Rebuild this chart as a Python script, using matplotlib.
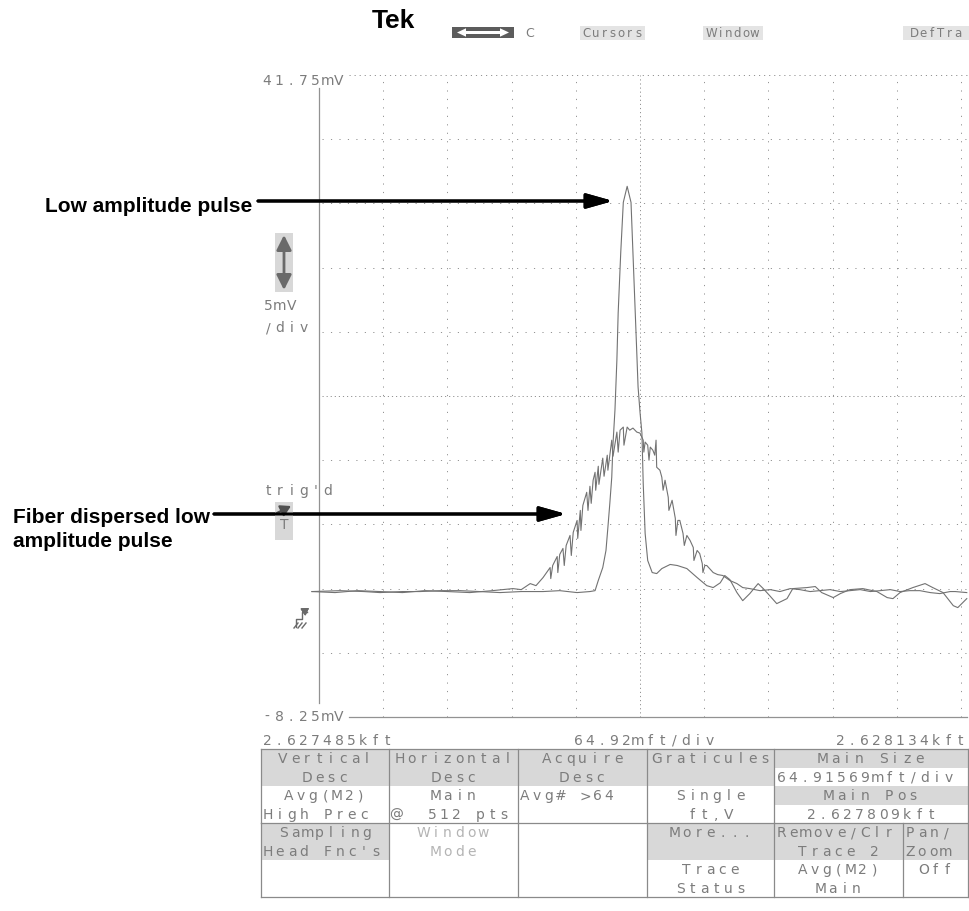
import matplotlib.pyplot as plt
from matplotlib.patches import Rectangle, Polygon
from matplotlib.lines import Line2D

W, H = 969, 911

# scope screen in pixels from the top-left corner
GRID_L, GRID_R, GRID_T, GRID_B = 319, 961, 75, 717
V_TOP, V_BOT = 41.75, -8.25          # mV at top / bottom of screen
N_DIV = 10

GRAY = '#7c7c7c'
GRID_GRAY = '#929292'
TRACE_GRAY = '#727272'
STIPPLE = '#d8d8d8'

# low amplitude pulse (horizontal position in divisions, amplitude in mV)
pulse_x = [-0.11, 0.33, 0.70, 0.95, 1.30, 1.57, 1.90, 2.20, 2.50, 2.82, 3.15, 3.49,
           3.75, 4.02, 4.22, 4.30, 4.35, 4.42, 4.47, 4.50, 4.53, 4.56, 4.58, 4.61,
           4.64, 4.66, 4.70, 4.74, 4.80, 4.86, 4.89, 4.92, 4.95, 4.97, 5.00, 5.03,
           5.05, 5.08, 5.12, 5.19, 5.26, 5.34, 5.47, 5.58, 5.73, 5.89, 6.04, 6.14,
           6.25, 6.32, 6.40, 6.51, 6.60, 6.71, 6.84, 6.92, 7.02, 7.13, 7.29, 7.38,
           7.60, 7.73, 7.83, 8.01, 8.12, 8.27, 8.47, 8.69, 8.85, 8.94, 9.05, 9.25,
           9.44, 9.56, 9.72, 9.88, 9.95, 10.09]
pulse_mv = [1.52, 1.59, 1.52, 1.44, 1.52, 1.52, 1.59, 1.59, 1.52, 1.44, 1.52, 1.52,
            1.59, 1.44, 1.52, 1.59, 2.38, 3.39, 4.72, 6.52, 8.39, 10.42, 13.08, 15.66,
            19.56, 23.23, 27.92, 31.83, 33.08, 31.83, 27.92, 24.02, 20.11, 17.45, 15.50, 13.86,
            9.95, 6.05, 3.94, 3.00, 2.92, 3.31, 3.63, 3.55, 3.31, 2.61, 1.98, 1.83,
            2.20, 2.77, 2.45, 1.44, 0.81, 1.36, 2.14, 1.75, 1.20, 0.58, 0.97, 1.75,
            1.83, 1.91, 1.44, 1.05, 1.36, 1.67, 1.75, 1.52, 1.05, 0.97, 1.44, 1.83,
            2.14, 1.83, 1.44, 0.42, 0.27, 0.97]

# same pulse after fiber dispersion
disp_x = [-0.11, 0.25, 0.60, 0.95, 1.30, 1.65, 2.00, 2.35, 2.70, 3.02, 3.15, 3.29,
          3.38, 3.49, 3.60, 3.61, 3.64, 3.71, 3.72, 3.75, 3.80, 3.82, 3.85, 3.91,
          3.93, 3.96, 4.02, 4.03, 4.07, 4.08, 4.11, 4.17, 4.19, 4.22, 4.24, 4.27,
          4.30, 4.31, 4.35, 4.36, 4.42, 4.44, 4.49, 4.50, 4.56, 4.58, 4.64, 4.66,
          4.69, 4.74, 4.75, 4.80, 4.84, 4.89, 4.95, 5.00, 5.05, 5.06, 5.08, 5.12,
          5.14, 5.16, 5.20, 5.23, 5.25, 5.26, 5.31, 5.34, 5.36, 5.39, 5.44, 5.45,
          5.50, 5.55, 5.56, 5.59, 5.62, 5.67, 5.69, 5.73, 5.78, 5.83, 5.84, 5.89,
          5.93, 5.97, 5.98, 6.01, 6.04, 6.14, 6.21, 6.29, 6.40, 6.51, 6.60, 6.71,
          6.87, 7.03, 7.18, 7.34, 7.49, 7.65, 7.80, 7.96, 8.12, 8.27, 8.43, 8.59,
          8.74, 8.90, 9.05, 9.20, 9.36, 9.52, 9.67, 9.83, 9.91, 10.09]
disp_mv = [1.52, 1.44, 1.59, 1.52, 1.44, 1.59, 1.52, 1.44, 1.59, 1.75, 1.67, 2.14,
           1.98, 2.61, 3.39, 2.53, 3.55, 4.25, 3.00, 4.41, 4.88, 3.55, 5.11, 5.89,
           4.33, 6.13, 7.06, 5.66, 7.84, 6.28, 8.23, 9.25, 7.84, 9.72, 8.39, 10.19,
           10.81, 9.41, 11.28, 9.87, 11.91, 10.50, 12.14, 10.97, 13.31, 12.06, 13.94, 12.38,
           14.09, 14.33, 12.92, 14.33, 14.09, 14.25, 13.94, 13.86, 13.31, 12.38, 13.16, 12.92,
           11.75, 12.77, 12.53, 12.14, 13.31, 11.20, 10.97, 10.42, 9.41, 10.19, 8.86, 7.84,
           8.63, 7.22, 5.89, 7.06, 7.06, 6.05, 5.11, 5.89, 5.50, 4.95, 3.94, 4.72,
           4.48, 3.70, 3.00, 3.55, 3.55, 3.00, 2.84, 2.77, 2.38, 2.14, 1.83, 1.75,
           1.59, 1.67, 1.52, 1.75, 1.67, 1.52, 1.59, 1.67, 1.52, 1.59, 1.67, 1.52,
           1.59, 1.67, 1.52, 1.59, 1.59, 1.44, 1.36, 1.52, 1.52, 1.44]

# readouts around the graticule
top_volts = '41.75mV'
bottom_volts = '-8.25mV'
volts_div = ['5mV', '/div']
left_pos = '2.627485kft'
pos_div = '64.92mft/div'
right_pos = '2.628134kft'

# menu strip at the top
menu_items = ['Cursors', 'Window', 'DefTra']

# bottom menu table, one list per column
upper_cols = [
    ['Vertical', 'Desc', 'Avg(M2)', 'High Prec'],
    ['Horizontal', 'Desc', 'Main', '@  512 pts'],
    ['Acquire', 'Desc', 'Avg# >64', ''],
    ['Graticules', '', 'Single', 'ft,V'],
    ['Main Size', '64.91569mft/div', 'Main Pos', '2.627809kft'],
]
lower_cols = [
    ['Sampling', "Head Fnc's", '', ''],
    ['Window', 'Mode', '', ''],
    ['', '', '', ''],
    ['More...', '', 'Trace', 'Status'],
    ['Remove/Clr', 'Trace 2', 'Avg(M2)', 'Main'],
    ['Pan/', 'Zoom', 'Off', ''],
]
upper_stipple = [(0, 0), (0, 1), (1, 0), (1, 1), (2, 0), (2, 1), (3, 0), (3, 1), (4, 0), (4, 2)]
lower_stipple = [(0, 0), (0, 1), (3, 0), (3, 1), (4, 0), (4, 1), (5, 0), (5, 1)]
left_aligned = {'High Prec', "Head Fnc's", 'Avg# >64', '@  512 pts', 'Remove/Clr',
                '64.91569mft/div', 'Pan/', 'Zoom'}
dimmed = {'Window', 'Mode'}

col_edges = [261, 389, 518, 647, 774, 903, 968]
row_pitch = 18.5
table_top = 749
table_mid = table_top + 4 * row_pitch
table_bot = table_mid + 4 * row_pitch

fig = plt.figure(figsize=(W / 100, H / 100), dpi=100)


def fx(x):
    return x / W


def fy(y):
    return 1 - y / H


def scope_text(x, base, s, pitch=12.0, size=10, color=GRAY, ha='left'):
    '''draw a string in fixed character cells like the scope display font'''
    n = len(s)
    if ha == 'center':
        x0 = x - n * pitch / 2
    elif ha == 'right':
        x0 = x - n * pitch
    else:
        x0 = x
    for i, ch in enumerate(s):
        if ch == ' ':
            continue
        fig.text(fx(x0 + (i + 0.5) * pitch), fy(base), ch, ha='center', va='baseline',
                 fontsize=size, color=color, family='DejaVu Sans')


def box(x0, y0, x1, y1, color, edge='none', lw=0):
    fig.add_artist(Rectangle((fx(x0), fy(y1)), fx(x1) - fx(x0), fy(y0) - fy(y1),
                             transform=fig.transFigure, facecolor=color,
                             edgecolor=edge, linewidth=lw))


def hline(x0, x1, y, color=GRID_GRAY, lw=0.8, ls='-'):
    fig.add_artist(Line2D([fx(x0), fx(x1)], [fy(y), fy(y)], transform=fig.transFigure,
                          color=color, lw=lw, ls=ls))


def vline(x, y0, y1, color=GRID_GRAY, lw=0.8, ls='-'):
    fig.add_artist(Line2D([fx(x), fx(x)], [fy(y0), fy(y1)], transform=fig.transFigure,
                          color=color, lw=lw, ls=ls))


def arrow(x0, y0, x1, y1, color, lw, style):
    fig.add_artist(plt.annotate('', xy=(x1, H - y1), xytext=(x0, H - y0),
                                xycoords='figure pixels', textcoords='figure pixels',
                                arrowprops=dict(arrowstyle=style, color=color, lw=lw,
                                                shrinkA=0, shrinkB=0, mutation_scale=10)))


# graticule axes
ax = fig.add_axes([fx(GRID_L), fy(GRID_B), fx(GRID_R) - fx(GRID_L), fy(GRID_T) - fy(GRID_B)])
ax.set_xlim(0, N_DIV)
ax.set_ylim(V_BOT, V_TOP)
ax.axis('off')

volts_per_div = (V_TOP - V_BOT) / N_DIV
x_right = (W - 2 - GRID_L) / (GRID_R - GRID_L) * N_DIV
x_label_end = (349 - GRID_L) / (GRID_R - GRID_L) * N_DIV
for i in range(1, N_DIV + 1):
    dense = (i == N_DIV // 2)
    ax.plot([i, i], [V_BOT, V_TOP], color=GRID_GRAY, lw=0.7,
            ls=(0, (1.2, 3.0)) if dense else (0, (1.2, 7.5)), clip_on=False)
for j in range(1, N_DIV):
    v = V_BOT + j * volts_per_div
    dense = (j == N_DIV // 2)
    ax.plot([0.05, x_right], [v, v], color=GRID_GRAY, lw=0.7,
            ls=(0, (1.2, 3.0)) if dense else (0, (1.2, 7.5)), clip_on=False)
ax.plot([x_label_end, x_right], [V_TOP, V_TOP], color=GRID_GRAY, lw=0.7,
        ls=(0, (1.2, 4)), clip_on=False)
ax.plot([x_label_end, x_right], [V_BOT, V_BOT], color=GRID_GRAY, lw=0.9, clip_on=False)
ax.plot([0, 0], [V_BOT + 1.1, V_TOP - 1.0], color=GRID_GRAY, lw=0.9, clip_on=False)

# the two traces
ax.plot(disp_x, disp_mv, color=TRACE_GRAY, lw=0.8, clip_on=False)
ax.plot(pulse_x, pulse_mv, color=TRACE_GRAY, lw=0.8, clip_on=False)

# readouts around the screen
scope_text(261, 85, top_volts)
scope_text(261, 721, bottom_volts)
scope_text(262, 310, volts_div[0])
scope_text(262, 332, volts_div[1])
scope_text(262, 495, "trig'd")
scope_text(261, 745, left_pos)
scope_text(644, 745, pos_div, ha='center')
scope_text(966, 745, right_pos, ha='right')

# volts/div icon
box(275, 233, 293, 292, STIPPLE)
arrow(284, 290, 284, 235, '#6a6a6a', 2.0, '<|-|>,head_length=0.9,head_width=0.45')
# trigger icon
box(275, 502, 293, 540, STIPPLE)
arrow(277, 513, 291, 506, '#505050', 1.6, '-|>,head_length=0.6,head_width=0.35')
scope_text(284, 529, 'T', ha='center')
# ground reference marker
fig.add_artist(Line2D([fx(v) for v in (296, 296, 302, 302, 307)],
                      [fy(v) for v in (627, 619, 619, 612, 612)],
                      transform=fig.transFigure, color='#6a6a6a', lw=1.0))
for dx in (0, 4, 8):
    fig.add_artist(Line2D([fx(294 + dx), fx(298 + dx)], [fy(628), fy(623)],
                          transform=fig.transFigure, color='#6a6a6a', lw=1.0))
arrow(303, 612, 309, 608, '#6a6a6a', 1.0, '-|>,head_length=0.4,head_width=0.25')

# top menu strip
fig.text(fx(372), fy(28), 'Tek', fontsize=19, fontweight='bold', color='black',
         family='Liberation Sans', va='baseline', ha='left')
box(452, 27, 514, 38, '#5c5c5c')
dbl_arrow = [(457, 32.5), (466, 28.3), (466, 31.0), (500, 31.0), (500, 28.3),
             (509, 32.5), (500, 36.7), (500, 34.0), (466, 34.0), (466, 36.7)]
fig.add_artist(Polygon([(fx(x), fy(y)) for x, y in dbl_arrow], closed=True,
                       transform=fig.transFigure, facecolor='white', edgecolor='none'))
scope_text(525, 37, 'C', pitch=9, size=9)
for label, (x0, x1) in zip(menu_items, [(580, 645), (703, 763), (903, 969)]):
    box(x0, 26, x1, 40, '#e4e4e4')
    scope_text((x0 + x1) / 2, 37, label, pitch=8.6, size=8.5, ha='center')


# bottom menu table
def draw_section(cols, stipple, y0, merged_last):
    edges = col_edges[:-2] + [col_edges[-1]] if merged_last else col_edges
    for (c, r) in stipple:
        box(edges[c], y0 + r * row_pitch, edges[c + 1], y0 + (r + 1) * row_pitch, STIPPLE)
    for c, texts in enumerate(cols):
        left, right = edges[c], edges[c + 1]
        for r, s in enumerate(texts):
            if not s:
                continue
            base = y0 + r * row_pitch + row_pitch / 2 + 5
            color = '#b4b4b4' if s in dimmed else GRAY
            if s in left_aligned:
                scope_text(left + 1, base, s, color=color)
            else:
                scope_text((left + right) / 2, base, s, color=color, ha='center')
    for e in edges:
        vline(e, y0, y0 + 4 * row_pitch, color='#8a8a8a', lw=0.9)


draw_section(upper_cols, upper_stipple, table_top, True)
draw_section(lower_cols, lower_stipple, table_mid, False)
for y in (table_top, table_mid, table_bot):
    hline(col_edges[0], col_edges[-1], y, color='#8a8a8a', lw=0.9)

# annotations
fig.text(fx(45), fy(212), 'Low amplitude pulse', fontsize=15, fontweight='bold',
         family='Liberation Sans', va='baseline', ha='left')
arrow(258, 201, 613, 201, 'black', 2.2, '-|>,head_length=1.6,head_width=0.45')
fig.text(fx(13), fy(523), 'Fiber dispersed low', fontsize=15, fontweight='bold',
         family='Liberation Sans', va='baseline', ha='left')
fig.text(fx(13), fy(547), 'amplitude pulse', fontsize=15, fontweight='bold',
         family='Liberation Sans', va='baseline', ha='left')
arrow(214, 514, 566, 514, 'black', 2.2, '-|>,head_length=1.6,head_width=0.45')

fig.savefig('out.png', dpi=100, facecolor='white')
